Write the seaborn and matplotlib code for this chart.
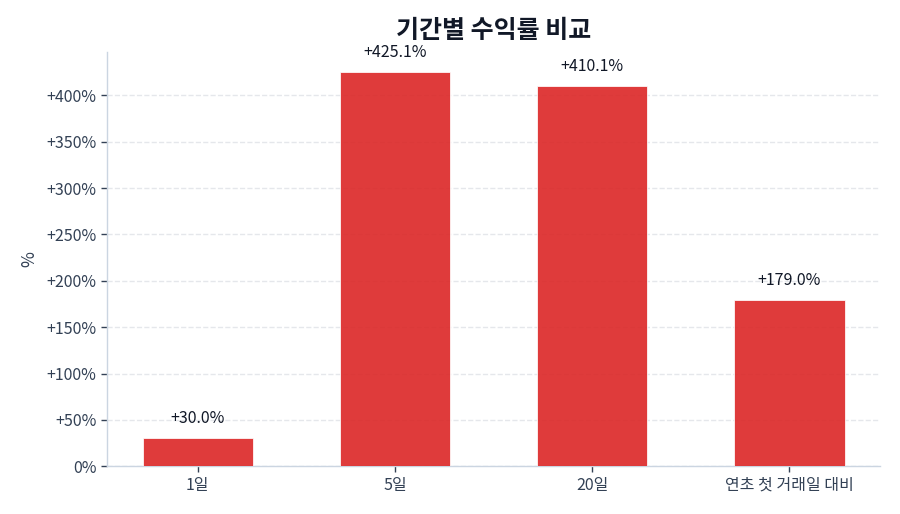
import matplotlib
matplotlib.use('Agg')
import matplotlib.pyplot as plt
import numpy as np
import pandas as pd
import seaborn as sns

# Data
periods = ['1일', '5일', '20일', '연초 첫 거래일 대비']
returns = [30.0, 425.1, 410.1, 179.0]
y_ticks = [0, 50, 100, 150, 200, 250, 300, 350, 400]

df = pd.DataFrame({'period': periods, 'ret': returns})

sns.set_theme(style='white')
plt.rcParams['font.family'] = ['Noto Sans CJK KR', 'DejaVu Sans']

fig, ax = plt.subplots(figsize=(9, 5.14), dpi=100)

sns.barplot(data=df, x='period', y='ret', color='#dc2626', alpha=0.9,
            saturation=1, width=0.56, edgecolor='white', linewidth=0.6,
            ax=ax, zorder=3)

ymax = max(returns)
for i, v in enumerate(returns):
    ax.text(i, v + ymax * 0.051, f"+{v:.1f}%", ha='center', va='center',
            fontsize=11.5, color='#111827', zorder=4)

ax.set_ylim(0, 447)
ax.set_xlim(-0.46, len(periods) - 0.54)
ax.set_yticks(y_ticks)
ax.set_yticklabels([f"+{t}%" if t > 0 else "0%" for t in y_ticks])

ax.yaxis.grid(True, linestyle='--', color='#e5e7eb', linewidth=1, zorder=0)
ax.xaxis.grid(False)

for side in ['top', 'right']:
    ax.spines[side].set_visible(False)
for side in ['left', 'bottom']:
    ax.spines[side].set_color('#cbd5e1')
    ax.spines[side].set_linewidth(1)

ax.tick_params(axis='both', labelsize=11.5, colors='#334155', length=4,
               width=1, left=True, bottom=True)
ax.set_xlabel('')
ax.set_ylabel('%', fontsize=12.5, color='#334155', labelpad=6)
ax.set_title('기간별 수익률 비교', fontsize=18, fontweight='bold',
             color='#111827', pad=10)

plt.subplots_adjust(left=0.119, right=0.978, top=0.899, bottom=0.093)
plt.savefig('out.png', dpi=100)
